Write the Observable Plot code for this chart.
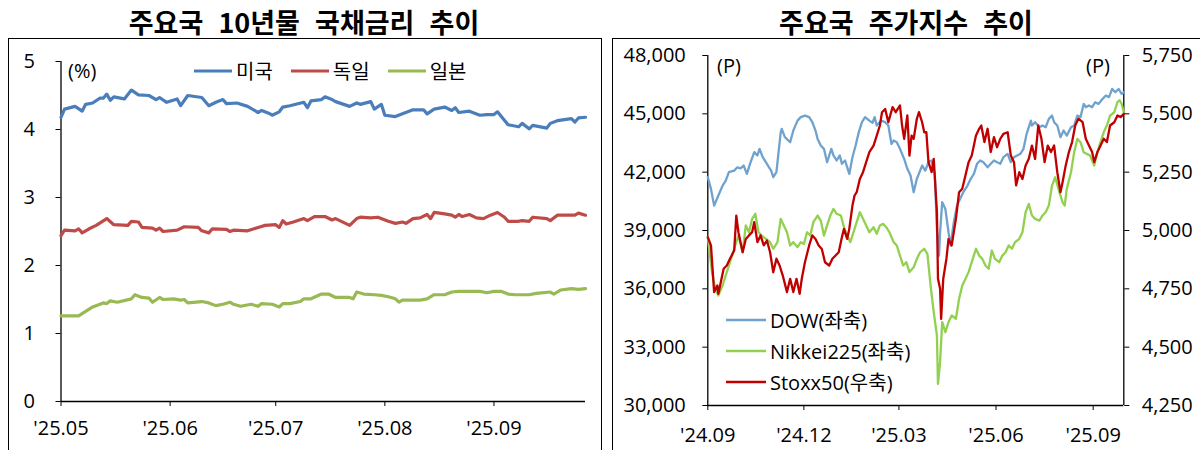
<!DOCTYPE html>
<html><head><meta charset="utf-8">
<script src="https://cdn.jsdelivr.net/npm/d3@7"></script>
<script src="https://cdn.jsdelivr.net/npm/@observablehq/plot@0.6"></script>
<style>
body{margin:0;width:1200px;height:450px;overflow:hidden;background:#fff;font-family:"Open Sans","Noto Sans CJK KR",sans-serif;color:#000;}
.title{font-family:"Noto Sans CJK KR",sans-serif;font-size:27px;font-weight:bold;text-align:center;top:2px;word-spacing:9px;line-height:36px;}
.frame{border:1px solid #000;}
.unit{font-size:20px;}
.leg{display:flex;align-items:center;font-size:20px;white-space:nowrap;}
.leg svg{margin-right:4px;}
</style></head>
<body>
<script>
// ---------- Left chart: 10Y government bond yields (%), day offsets from 2025-05-01 ----------
const rateStart = "2025-05-01";
const rateEnd = "2025-09-27";
const rateTickDates = ["2025-05-01","2025-06-01","2025-07-01","2025-08-01","2025-09-01"];
const rateTickLabels = ["'25.05","'25.06","'25.07","'25.08","'25.09"];
const rateYTicks = [0,1,2,3,4,5];
const rateSeriesNames = ["미국","독일","일본"];

const usDay = [0,1,4,6,7,9,11,12,13,14,15,18,20,22,25,27,28,30,33,34,36,40,42,44,46,47,50,53,56,57,59,60,62,63,65,69,70,71,74,75,77,78,82,84,85,88,89,91,92,95,97,100,103,104,106,109,111,112,113,116,119,121,123,124,127,130,131,133,134,138,139,141,145,146,147,149];
const usRate = [4.18,4.30,4.34,4.27,4.37,4.39,4.46,4.46,4.52,4.43,4.48,4.45,4.58,4.51,4.50,4.44,4.47,4.40,4.45,4.35,4.50,4.47,4.35,4.40,4.44,4.38,4.39,4.34,4.25,4.28,4.24,4.21,4.26,4.33,4.35,4.40,4.32,4.42,4.44,4.48,4.44,4.41,4.34,4.39,4.37,4.41,4.30,4.37,4.21,4.19,4.23,4.29,4.29,4.23,4.30,4.33,4.28,4.32,4.25,4.27,4.21,4.22,4.22,4.26,4.07,4.04,4.09,4.01,4.06,4.02,4.09,4.13,4.16,4.11,4.17,4.18];

const deDay = [0,1,4,5,6,8,10,13,15,19,20,22,23,26,27,28,29,33,35,39,40,42,43,47,48,49,53,56,58,61,62,63,64,66,69,70,72,75,77,78,82,84,85,88,90,93,95,97,98,100,102,104,105,106,109,111,112,113,114,116,118,120,122,124,126,127,130,131,133,134,138,139,141,146,147,149];
const deRate = [2.44,2.52,2.51,2.54,2.48,2.54,2.59,2.69,2.60,2.59,2.65,2.64,2.56,2.55,2.52,2.55,2.50,2.52,2.57,2.56,2.51,2.48,2.54,2.53,2.50,2.52,2.51,2.56,2.59,2.60,2.56,2.66,2.61,2.64,2.69,2.66,2.72,2.72,2.67,2.69,2.59,2.69,2.71,2.70,2.71,2.65,2.62,2.64,2.62,2.69,2.70,2.75,2.69,2.78,2.76,2.74,2.71,2.75,2.72,2.75,2.70,2.69,2.74,2.78,2.71,2.65,2.65,2.66,2.65,2.71,2.69,2.66,2.74,2.74,2.77,2.74];

const jpDay = [0,5,9,12,13,14,16,20,21,23,25,26,28,29,32,34,35,36,40,42,44,46,48,49,51,54,56,57,60,62,63,65,68,69,71,74,76,78,82,83,84,86,89,91,93,95,96,97,102,104,106,109,111,113,119,121,123,125,127,129,133,135,139,140,142,145,147,149];
const jpRate = [1.26,1.26,1.39,1.45,1.44,1.48,1.46,1.51,1.57,1.53,1.52,1.46,1.53,1.50,1.51,1.49,1.50,1.45,1.47,1.45,1.41,1.43,1.46,1.43,1.40,1.43,1.40,1.44,1.43,1.39,1.44,1.44,1.47,1.51,1.51,1.58,1.58,1.53,1.53,1.51,1.61,1.58,1.57,1.56,1.54,1.51,1.46,1.49,1.49,1.51,1.57,1.57,1.61,1.62,1.62,1.60,1.62,1.62,1.58,1.57,1.57,1.59,1.61,1.58,1.64,1.66,1.65,1.66];

// ---------- Right chart: stock indices (P), day offsets from 2024-09-01 ----------
const idxStart = "2024-09-01";
const idxEnd = "2025-09-30";
const idxTickDates = ["2024-09-01","2024-12-01","2025-03-01","2025-06-01","2025-09-01"];
const idxTickLabels = ["'24.09","'24.12","'25.03","'25.06","'25.09"];
const leftAxisTicks = [30000,33000,36000,39000,42000,45000,48000];
const rightAxisTicks = [4250,4500,4750,5000,5250,5500,5750];
const idxSeriesNames = ["DOW(좌축)","Nikkei225(좌축)","Stoxx50(우축)"];

const dowDay = [0,3,6,10,14,17,20,25,28,31,34,37,40,44,47,49,52,56,58,60,62,65,69,70,73,78,81,85,88,92,96,99,102,104,107,110,113,117,119,122,125,127,130,134,137,140,143,146,149,153,156,158,160,164,168,171,174,176,179,182,186,189,192,195,198,203,206,209,212,215,217,219,220,222,225,228,230,233,236,239,242,246,249,252,255,258,261,265,268,271,274,277,280,284,287,290,293,296,299,302,306,307,310,314,317,320,323,326,328,331,334,337,340,344,347,350,353,356,358,361,364,367,370,374,377,380,383,386,389,392,394];
const dowVal = [41740,41140,40280,40800,41310,41570,42000,42080,42250,42200,42340,41910,42430,43030,42860,43200,42770,42430,42250,42080,41740,42000,44020,44230,43800,43540,44140,44650,44830,44910,44830,44570,44140,43710,43370,43200,42510,43200,42860,42600,42860,42430,42600,41910,42770,43370,44060,44570,44830,44650,44540,44830,44400,44650,44570,44400,43450,43630,43540,43200,42680,42170,41830,40970,41660,42340,42080,42510,42600,41910,39080,37710,38910,40460,40110,38910,38230,39430,40280,40630,40970,41310,41660,41910,42430,42600,42510,42250,42430,42600,42510,42430,42770,42940,42510,42770,42860,42940,43200,43970,44650,44400,44570,44310,44400,44310,44740,44910,44570,44400,43800,44140,43880,44310,44400,44910,44830,45510,45340,45430,45340,45600,45510,45770,45940,45860,46280,46110,46280,46030,46110];

const nkDay = [0,4,7,10,14,17,20,23,26,29,33,36,39,42,45,48,51,55,59,62,66,69,72,75,78,81,85,88,91,94,97,100,104,107,110,113,116,119,122,126,129,132,135,138,141,144,147,150,153,157,160,163,166,169,172,176,179,182,185,188,191,195,198,201,205,208,211,214,217,218,220,222,225,228,231,235,238,241,244,247,250,254,257,260,263,266,269,272,276,279,282,285,288,291,295,298,301,304,307,310,314,317,320,323,326,329,333,336,338,340,344,347,350,353,356,359,362,366,369,372,375,378,381,385,388,390,392,394];
const nkVal = [38660,36860,36000,35660,36170,36690,37200,37710,38230,38740,37880,39260,38910,39600,39860,38910,38740,38570,38400,38060,38400,39600,39260,38910,38230,38400,38140,38400,38310,38910,38740,39430,39770,39510,38740,39260,39770,40110,39860,39770,39170,38740,38400,38910,39430,39940,39600,39260,38910,39170,38830,39260,39340,39170,38910,38400,38230,37710,37200,37370,36860,37110,37540,37880,38060,37800,36170,34800,33600,31110,32230,34290,33770,34290,34630,34460,35490,36170,36510,36860,37370,38060,37710,37540,37200,37030,37970,37540,37370,37710,37880,38230,38060,38400,38570,38910,39940,40370,39770,39600,39510,39770,39940,40280,41310,41740,40970,40460,40280,41140,42000,43030,43710,43540,43030,42940,42860,42340,43030,43540,44060,44400,44910,45080,45600,45700,45510,45080];

const sxDay = [0,3,6,9,10,13,15,18,21,25,27,29,33,36,39,42,44,47,50,53,56,59,62,65,68,71,75,78,81,84,87,89,92,96,99,102,105,108,111,115,118,121,124,127,129,132,134,137,139,141,144,147,150,153,157,160,163,165,168,171,175,178,181,182,184,186,189,191,193,195,198,200,203,205,207,209,212,214,217,218,220,221,223,226,228,231,235,238,241,244,247,250,254,257,259,262,265,268,271,274,277,280,284,287,290,292,295,298,301,304,307,310,313,316,319,322,325,328,331,334,336,339,342,345,348,351,355,358,361,364,366,369,372,375,378,381,385,388,391,394];
const sxVal = [4971,4936,4736,4764,4729,4793,4836,4850,4879,4914,5064,4993,4907,4964,4979,4993,5036,4950,4979,4936,4957,4907,4821,4879,4850,4807,4736,4793,4736,4793,4729,4793,4864,4936,4979,4964,4936,4921,4864,4850,4879,4893,4907,4971,5007,4964,5007,5107,5150,5164,5221,5250,5293,5336,5364,5407,5450,5507,5521,5464,5529,5507,5529,5536,5450,5393,5493,5321,5407,5393,5479,5507,5464,5421,5421,5293,5250,5307,5079,4793,4750,4621,4793,4879,4964,4936,5050,5164,5179,5236,5293,5321,5407,5436,5450,5379,5436,5336,5400,5357,5393,5414,5421,5321,5293,5193,5250,5221,5279,5307,5364,5307,5450,5393,5293,5364,5336,5364,5250,5164,5207,5279,5336,5379,5450,5479,5464,5393,5364,5336,5293,5336,5364,5393,5379,5450,5464,5493,5486,5500];

// ---------- helpers ----------
const FONT = '"Open Sans","Noto Sans CJK KR",sans-serif';
const parse = s => new Date(s + "T00:00:00Z");
const rows = (base, days, vals, name) => days.map((d, i) => ({date: d3.utcDay.offset(parse(base), d), value: vals[i], name}));
const rateColors = ["#4a7ebb", "#be4b48", "#98b954"];
const idxColors = ["#6fa2cf", "#92d050", "#c00000"];

function place(el, left, top, w, h) {
  el.style.position = "absolute"; el.style.left = left + "px"; el.style.top = top + "px";
  if (w != null) el.style.width = w + "px"; if (h != null) el.style.height = h + "px";
  document.body.appendChild(el); return el;
}
function div(cls, text) { const d = document.createElement("div"); d.className = cls; if (text != null) d.textContent = text; return d; }
function legendItem(color, label, lineW, sw) {
  const d = div("leg");
  d.innerHTML = `<svg width="${lineW}" height="10"><line x1="0" x2="${lineW}" y1="5" y2="5" stroke="${color}" stroke-width="${sw}"/></svg>`;
  const s = document.createElement("span"); s.textContent = label; d.appendChild(s); return d;
}

// frames & titles
place(div("frame"), 8, 38, 592, 430);
place(div("frame"), 612, 38, 600, 430);
place(div("title", "주요국 10년물 국채금리 추이"), 8, 4, 592);
place(div("title", "주요국 주가지수 추이"), 612, 4, 588);

// ---------- Left plot ----------
const rateData = [
  ...rows(rateStart, usDay, usRate, rateSeriesNames[0]),
  ...rows(rateStart, deDay, deRate, rateSeriesNames[1]),
  ...rows(rateStart, jpDay, jpRate, rateSeriesNames[2])
];
const p1 = Plot.plot({
  width: 600, height: 450,
  marginLeft: 60.5, marginRight: 15, marginTop: 61, marginBottom: 49,
  style: {fontFamily: FONT, fontSize: "20px", background: "transparent", color: "#000"},
  x: {type: "utc", domain: [parse(rateStart), parse(rateEnd)]},
  y: {domain: [0, 5]},
  color: {domain: rateSeriesNames, range: rateColors},
  marks: [
    Plot.axisY({ticks: rateYTicks, tickFormat: d3.format("d"), tickSize: 5, tickPadding: 21, fontSize: 20, label: null}),
    Plot.axisX({ticks: rateTickDates.map(parse), tickFormat: (d, i) => rateTickLabels[i], tickSize: 5, tickPadding: 14, fontSize: 20, label: null}),
    Plot.ruleX([parse(rateStart)], {stroke: "#000", strokeWidth: 1.3}),
    Plot.ruleY([0], {stroke: "#000", strokeWidth: 1.3}),
    Plot.line(rateData, {x: "date", y: "value", z: "name", stroke: "name", strokeWidth: 3.2, strokeLinejoin: "round"})
  ]
});
place(p1, 0, 0);

place(div("unit", "(%)"), 68, 57);
const l1 = div(""); l1.style.display = "flex"; l1.style.gap = "18px";
rateSeriesNames.forEach((n, i) => l1.appendChild(legendItem(rateColors[i], n, 38, 3.2)));
place(l1, 194, 56);

// ---------- Right plot ----------
const toLeft = v => 30000 + (v - 4250) * 12;
const idxData = [
  ...rows(idxStart, dowDay, dowVal, idxSeriesNames[0]),
  ...rows(idxStart, nkDay, nkVal, idxSeriesNames[1]),
  ...rows(idxStart, sxDay, sxVal.map(toLeft), idxSeriesNames[2])
];
const fmt = d3.format(",");
const p2 = Plot.plot({
  width: 600, height: 450,
  marginLeft: 107.3, marginRight: 76.7, marginTop: 55, marginBottom: 45,
  style: {fontFamily: FONT, fontSize: "20px", background: "transparent", color: "#000"},
  x: {type: "utc", domain: [parse(idxStart), parse(idxEnd)]},
  y: {domain: [30000, 48000]},
  color: {domain: idxSeriesNames, range: idxColors},
  marks: [
    Plot.axisY({ticks: leftAxisTicks, tickFormat: fmt, tickSize: 5, tickPadding: 17, fontSize: 20, label: null}),
    Plot.axisY({anchor: "right", ticks: rightAxisTicks.map(toLeft), tickFormat: (d, i) => fmt(rightAxisTicks[i]), tickSize: 5, tickPadding: 13, fontSize: 20, label: null}),
    Plot.axisX({ticks: idxTickDates.map(parse), tickFormat: (d, i) => idxTickLabels[i], tickSize: 5, tickPadding: 17, fontSize: 20, label: null}),
    Plot.ruleX([parse(idxStart), parse(idxEnd)], {stroke: "#000", strokeWidth: 1.3}),
    Plot.ruleY([30000], {stroke: "#000", strokeWidth: 1.3}),
    Plot.line(idxData, {x: "date", y: "value", z: "name", stroke: "name", strokeWidth: 2.3, strokeLinejoin: "round"})
  ]
});
place(p2, 600, 0);

place(div("unit", "(P)"), 717, 52);
place(div("unit", "(P)"), 1086, 52);
const l2 = div(""); l2.style.display = "flex"; l2.style.flexDirection = "column"; l2.style.gap = "2px";
idxSeriesNames.forEach((n, i) => l2.appendChild(legendItem(idxColors[i], n, 40, 2.3)));
place(l2, 726, 305);
</script>
</body></html>
